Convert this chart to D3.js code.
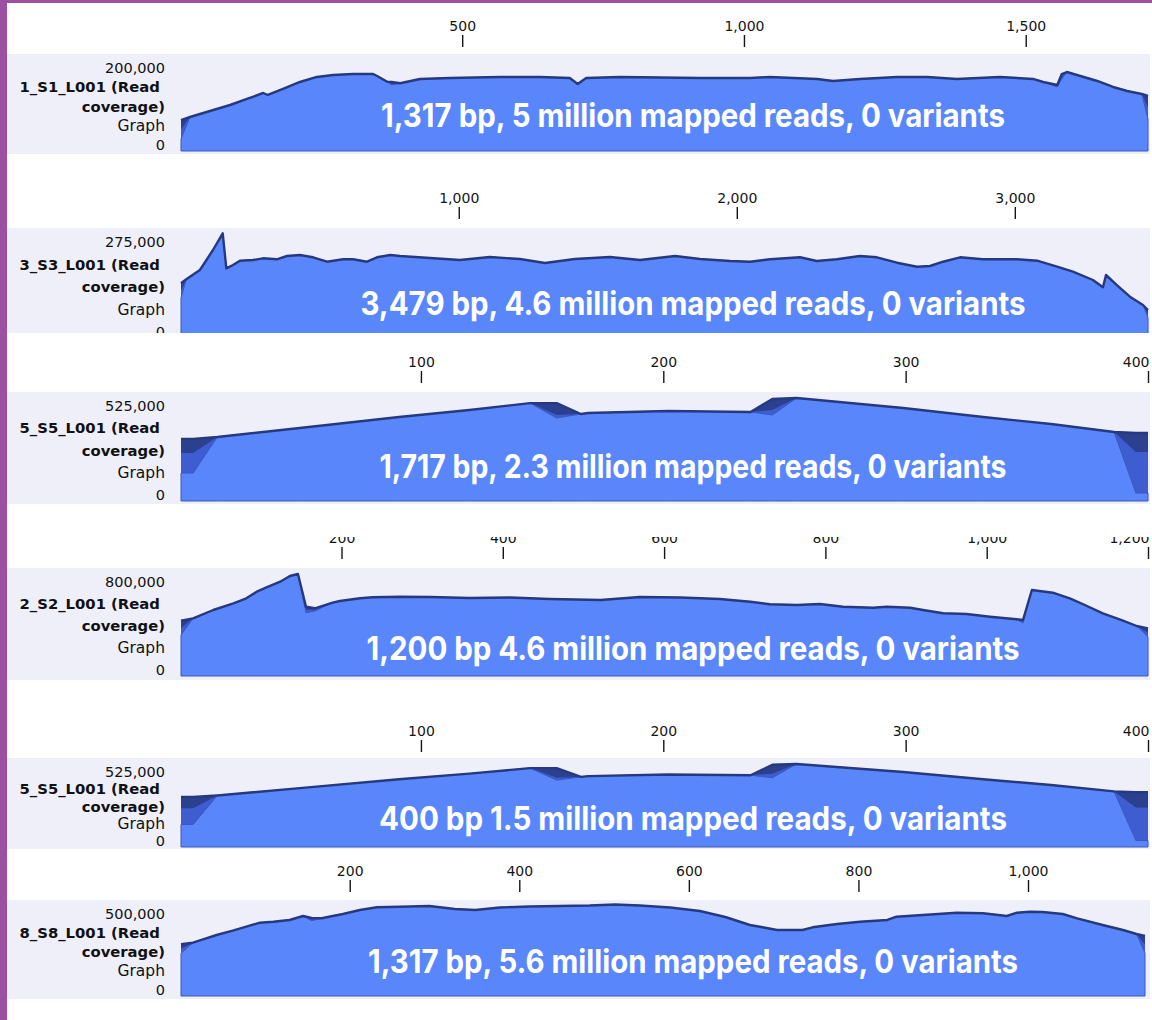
<!DOCTYPE html>
<html>
<head>
<meta charset="utf-8">
<script src="https://cdn.jsdelivr.net/npm/d3@7"></script>
<style>
  body { margin: 0; background: #ffffff; }
  svg { display: block; }
</style>
</head>
<body>
<svg id="chart" width="1152" height="1020"></svg>
<script>
// ---- Samples -------------------------------------------------------------
const sampleNames = ["1_S1_L001", "3_S3_L001", "5_S5_L001", "2_S2_L001", "5_S5_L001", "8_S8_L001"];
const refLengths  = [1717, 3479, 400, 1200, 400, 1138];
const yMaxLabels  = [200000, 275000, 525000, 800000, 525000, 500000];
const tickValues  = [
  [500, 1000, 1500],
  [1000, 2000, 3000],
  [100, 200, 300, 400],
  [200, 400, 600, 800, 1000, 1200],
  [100, 200, 300, 400],
  [200, 400, 600, 800, 1000]
];
const summaries = [
  "1,317 bp, 5 million mapped reads, 0 variants",
  "3,479 bp, 4.6 million mapped reads, 0 variants",
  "1,717 bp, 2.3 million mapped reads, 0 variants",
  "1,200 bp 4.6 million mapped reads, 0 variants",
  "400 bp 1.5 million mapped reads, 0 variants",
  "1,317 bp, 5.6 million mapped reads, 0 variants"
];

// ---- Read coverage: reference position (bp), max / mid / main coverage ----
const s1Pos = [1, 17, 88, 118, 147, 155, 182, 212, 242, 271, 306, 342, 349, 367, 375, 390, 425, 478, 567, 638, 691, 705, 720, 780, 851, 922, 1011, 1046, 1130, 1158, 1206, 1272, 1325, 1378, 1454, 1513, 1531, 1556, 1564, 1573, 1591, 1627, 1655, 1680, 1706, 1717];
const s1Max = [68100, 74700, 101100, 114300, 127500, 123100, 136300, 151700, 162700, 167000, 169200, 169200, 164900, 152300, 151700, 148800, 158300, 160500, 162700, 162700, 160500, 147300, 160500, 162700, 161600, 160500, 160500, 162700, 158300, 153900, 158300, 162700, 162700, 158300, 162700, 158300, 151700, 145100, 169200, 173600, 167000, 153900, 140700, 131900, 125300, 120900];
const s1Mid = [47000, 74700, 101100, 114300, 127500, 123100, 136300, 151700, 162700, 167000, 169200, 169200, 164900, 152300, 148000, 148800, 158300, 160500, 162700, 162700, 160500, 147300, 160500, 162700, 161600, 160500, 160500, 162700, 158300, 153900, 158300, 162700, 162700, 158300, 162700, 158300, 151700, 143000, 164000, 173600, 167000, 153900, 140700, 131900, 125300, 95000];
const s1Cov = [26400, 74700, 101100, 114300, 127500, 123100, 136300, 151700, 162700, 167000, 169200, 169200, 164900, 152300, 145100, 148800, 158300, 160500, 162700, 162700, 160500, 147300, 160500, 162700, 161600, 160500, 160500, 162700, 158300, 153900, 158300, 162700, 162700, 158300, 162700, 158300, 151700, 140700, 158300, 173600, 167000, 153900, 140700, 131900, 125300, 70300];

const s3Pos = [1, 20, 69, 116, 151, 164, 188, 213, 260, 296, 346, 382, 429, 476, 526, 584, 620, 670, 706, 753, 789, 897, 1004, 1112, 1220, 1310, 1418, 1544, 1652, 1778, 1868, 1976, 2048, 2120, 2227, 2288, 2360, 2443, 2504, 2576, 2648, 2695, 2742, 2803, 2885, 3008, 3080, 3152, 3209, 3281, 3317, 3328, 3367, 3414, 3461, 3479];
const s3Max = [144600, 155200, 179800, 232700, 276800, 184300, 193000, 204400, 206200, 210700, 208100, 216800, 219500, 213400, 201700, 208100, 208100, 201700, 213400, 219500, 216800, 211500, 206200, 214200, 208900, 198300, 208900, 214200, 206200, 216800, 208900, 203600, 201700, 208100, 213400, 203600, 208100, 216800, 213400, 199100, 188500, 190400, 201700, 213400, 208100, 208100, 204400, 188500, 175300, 153400, 134100, 166600, 140100, 109200, 87300, 74000];
const s3Mid = [125000, 155200, 179800, 232700, 276800, 184300, 193000, 204400, 206200, 210700, 208100, 216800, 219500, 213400, 201700, 208100, 208100, 201700, 213400, 219500, 216800, 211500, 206200, 214200, 208900, 198300, 208900, 214200, 206200, 216800, 208900, 203600, 201700, 208100, 213400, 203600, 208100, 216800, 213400, 199100, 188500, 190400, 201700, 213400, 208100, 208100, 204400, 188500, 175300, 153400, 134100, 166600, 140100, 109200, 87300, 63000];
const s3Cov = [105800, 155200, 179800, 232700, 276800, 184300, 193000, 204400, 206200, 210700, 208100, 216800, 219500, 213400, 201700, 208100, 208100, 201700, 213400, 219500, 216800, 211500, 206200, 214200, 208900, 198300, 208900, 214200, 206200, 216800, 208900, 203600, 201700, 208100, 213400, 203600, 208100, 216800, 213400, 199100, 188500, 190400, 201700, 213400, 208100, 208100, 204400, 188500, 175300, 153400, 134100, 166600, 140100, 109200, 87300, 52900];

const s5Pos = [1, 6, 16, 50, 91, 120, 145, 156, 166, 169, 202, 236, 245, 255, 299, 332, 360, 386, 395, 400];
const s5Max = [316000, 316000, 326200, 372100, 428100, 463800, 499000, 499000, 443400, 448500, 458700, 453600, 519900, 525000, 474000, 428100, 392500, 351700, 346600, 346600];
const s5Mid = [244700, 244700, 326200, 372100, 428100, 463800, 499000, 438000, 443400, 448500, 458700, 453600, 463800, 525000, 474000, 428100, 392500, 351700, 249800, 249800];
const s5Cov = [142700, 142700, 326200, 372100, 428100, 463800, 499000, 423000, 443400, 448500, 458700, 453600, 438300, 525000, 474000, 428100, 392500, 351700, 40800, 40800];

const s2Pos = [1, 16, 41, 66, 82, 95, 107, 124, 136, 146, 156, 167, 189, 198, 223, 239, 273, 310, 359, 409, 458, 521, 570, 620, 669, 707, 731, 765, 793, 822, 859, 876, 905, 921, 946, 975, 1004, 1037, 1045, 1056, 1082, 1103, 1119, 1144, 1169, 1186, 1200];
const s2Max = [433700, 452500, 517600, 570200, 609400, 661200, 695700, 739600, 784300, 800000, 543500, 531000, 574900, 588200, 609400, 617200, 622000, 619600, 611800, 615700, 603900, 596100, 619600, 615700, 603900, 582700, 562300, 556900, 564700, 543500, 535700, 543500, 535700, 517600, 491800, 486300, 465100, 444700, 439200, 674500, 653300, 609400, 564700, 491800, 433700, 392200, 374100];
const s2Mid = [375000, 452500, 517600, 570200, 609400, 661200, 695700, 739600, 784300, 800000, 520000, 520000, 574900, 588200, 609400, 617200, 622000, 619600, 611800, 615700, 603900, 596100, 619600, 615700, 603900, 582700, 562300, 556900, 564700, 543500, 535700, 543500, 535700, 517600, 491800, 486300, 465100, 444700, 427000, 674500, 653300, 609400, 564700, 491800, 433700, 392200, 340000];
const s2Cov = [321600, 452500, 517600, 570200, 609400, 661200, 695700, 739600, 784300, 800000, 496500, 509800, 574900, 588200, 609400, 617200, 622000, 619600, 611800, 615700, 603900, 596100, 619600, 615700, 603900, 582700, 562300, 556900, 564700, 543500, 535700, 543500, 535700, 517600, 491800, 486300, 465100, 444700, 415700, 674500, 653300, 609400, 564700, 491800, 433700, 392200, 308200];

const s8Pos = [1, 15, 27, 43, 62, 78, 94, 110, 129, 145, 155, 167, 180, 192, 212, 232, 259, 294, 324, 348, 377, 412, 448, 483, 513, 542, 578, 613, 643, 672, 687, 704, 734, 746, 775, 802, 834, 845, 876, 916, 947, 975, 987, 1002, 1017, 1041, 1058, 1088, 1112, 1128, 1138];
const s8Max = [287200, 296100, 315000, 338900, 362800, 385000, 407300, 412800, 422300, 444500, 433400, 431700, 444500, 455600, 477800, 492800, 496100, 500000, 483400, 477800, 491700, 497200, 500000, 502800, 508400, 502800, 491700, 472300, 438900, 394500, 381700, 366700, 366700, 381700, 400000, 412800, 422300, 440600, 450000, 462800, 459500, 444500, 462800, 468400, 466700, 455600, 431700, 394500, 366700, 344500, 333400];
const s8Mid = [262000, 296100, 315000, 338900, 362800, 385000, 407300, 412800, 422300, 444500, 425000, 431700, 444500, 455600, 477800, 492800, 496100, 500000, 483400, 477800, 491700, 497200, 500000, 502800, 508400, 502800, 491700, 472300, 438900, 394500, 381700, 366700, 366700, 381700, 400000, 412800, 422300, 440600, 450000, 462800, 459500, 444500, 462800, 468400, 466700, 455600, 431700, 394500, 366700, 344500, 286000];
const s8Cov = [237200, 296100, 315000, 338900, 362800, 385000, 407300, 412800, 422300, 444500, 418400, 431700, 444500, 455600, 477800, 492800, 496100, 500000, 483400, 477800, 491700, 497200, 500000, 502800, 508400, 502800, 491700, 472300, 438900, 394500, 381700, 366700, 366700, 381700, 400000, 412800, 422300, 440600, 450000, 462800, 459500, 444500, 462800, 468400, 466700, 455600, 431700, 394500, 366700, 344500, 238900];

const coverage = [
  { pos: s1Pos, max: s1Max, mid: s1Mid, cov: s1Cov },
  { pos: s3Pos, max: s3Max, mid: s3Mid, cov: s3Cov },
  { pos: s5Pos, max: s5Max, mid: s5Mid, cov: s5Cov },
  { pos: s2Pos, max: s2Max, mid: s2Mid, cov: s2Cov },
  { pos: s5Pos, max: s5Max, mid: s5Mid, cov: s5Cov },
  { pos: s8Pos, max: s8Max, mid: s8Mid, cov: s8Cov }
];

// ---- Track layout (one stacked view per sample) ---------------------------
const W = 1152, H = 1020;
const plotLeft = 181, bandLeft = 7, bandRight = 1150;
const layout = [
  { clip: [3, 170],    bandTop: 54,  bandBottom: 154, plotBottom: 151, plotRight: 1148, tickGap: 7, textY: 127, textW: 624 },
  { clip: [170, 333],  bandTop: 228, bandBottom: 345, plotBottom: 338, plotRight: 1148, tickGap: 9, textY: 315, textW: 665 },
  { clip: [333, 531],  bandTop: 392, bandBottom: 504, plotBottom: 501, plotRight: 1148, tickGap: 9, textY: 478, textW: 627 },
  { clip: [537, 690],  bandTop: 568, bandBottom: 680, plotBottom: 676, plotRight: 1148, tickGap: 9, textY: 660, textW: 653 },
  { clip: [690, 850],  bandTop: 758, bandBottom: 849, plotBottom: 847, plotRight: 1148, tickGap: 6, textY: 830, textW: 628 },
  { clip: [850, 1020], bandTop: 900, bandBottom: 999, plotBottom: 996, plotRight: 1145, tickGap: 8, textY: 973, textW: 650 }
];

const colors = {
  band: "#efeffa",
  max: "#2c4090",
  mid: "#3d5dd0",
  main: "#5987fb",
  edge: "#3b57c0",
  line: "#26397f",
  frame: "#9b51a0"
};
const labelFont = "'DejaVu Sans', Verdana, sans-serif";
const fmt = d3.format(",");

const svg = d3.select("#chart");
svg.append("rect").attr("width", W).attr("height", H).attr("fill", "#ffffff");
const defs = svg.append("defs");

sampleNames.forEach((name, i) => {
  const L = layout[i];
  const data = coverage[i];

  defs.append("clipPath").attr("id", "clip" + i)
    .append("rect")
    .attr("x", bandLeft).attr("y", L.clip[0])
    .attr("width", W - bandLeft).attr("height", L.clip[1] - L.clip[0]);

  const g = svg.append("g").attr("clip-path", `url(#clip${i})`);

  // track background band
  g.append("rect")
    .attr("x", bandLeft).attr("y", L.bandTop)
    .attr("width", bandRight - bandLeft).attr("height", L.bandBottom - L.bandTop)
    .attr("fill", colors.band);

  const x = d3.scaleLinear().domain([1, refLengths[i]]).range([plotLeft, L.plotRight]);
  const y = d3.scaleLinear().domain([0, yMaxLabels[i]]).range([L.plotBottom, L.bandTop + 6]);

  const rows = data.pos.map((p, k) => ({ p, max: data.max[k], mid: data.mid[k], cov: data.cov[k] }));
  const areaOf = key => d3.area().x(d => x(d.p)).y0(L.plotBottom).y1(d => y(d[key]));

  g.append("path").datum(rows).attr("d", areaOf("max")).attr("fill", colors.max);
  g.append("path").datum(rows).attr("d", areaOf("mid")).attr("fill", colors.mid);
  g.append("path").datum(rows).attr("d", areaOf("cov"))
    .attr("fill", colors.main).attr("stroke", colors.edge).attr("stroke-width", 1);
  g.append("path").datum(rows)
    .attr("d", d3.line().x(d => x(d.p)).y(d => y(d.max)))
    .attr("fill", "none").attr("stroke", colors.line)
    .attr("stroke-width", 2.4).attr("stroke-linejoin", "round");

  // position ruler above the track
  const axis = g.append("g")
    .attr("transform", `translate(0,${L.bandTop - L.tickGap})`)
    .call(d3.axisTop(x).tickValues(tickValues[i]).tickSize(12).tickPadding(4).tickFormat(fmt));
  axis.select(".domain").remove();
  axis.selectAll(".tick line").attr("stroke", "#151515").attr("stroke-width", 1.4);
  axis.selectAll(".tick text")
    .attr("fill", "#151515")
    .style("font-family", labelFont).style("font-size", "14px")
    .each(function (d) {
      const w = this.getComputedTextLength();
      const over = x(d) + w / 2 - (bandRight - 1);
      if (over > 0) d3.select(this).attr("x", -over);
    });

  // track labels on the left
  const lines = [
    { t: fmt(yMaxLabels[i]), bold: false, size: 14.5 },
    { t: name + " (Read\u00a0", bold: true, size: 14.8 },
    { t: "coverage)", bold: true, size: 14.8 },
    { t: "Graph", bold: false, size: 15.5 },
    { t: "0", bold: false, size: 14.5 }
  ];
  const top = L.bandTop + 14, bottom = L.plotBottom - 6.5;
  const step = (bottom - top) / (lines.length - 1);
  g.selectAll("text.lbl").data(lines).enter().append("text")
    .attr("class", "lbl")
    .attr("x", 165).attr("y", (d, k) => top + k * step)
    .attr("dy", "0.36em")
    .attr("text-anchor", "end")
    .attr("fill", "#111111")
    .style("font-family", labelFont)
    .style("font-size", d => d.size + "px")
    .style("font-weight", d => d.bold ? "bold" : "normal")
    .text(d => d.t);

  // run summary over the coverage graph
  g.append("text")
    .attr("x", 693).attr("y", L.textY)
    .attr("text-anchor", "middle")
    .attr("textLength", L.textW).attr("lengthAdjust", "spacingAndGlyphs")
    .attr("fill", "#ffffff")
    .style("font-family", "Inter, 'Open Sans', sans-serif")
    .style("font-weight", 700)
    .style("font-size", "32px")
    .text(summaries[i]);
});

// outer frame
svg.append("rect").attr("x", 0).attr("y", 0).attr("width", 7).attr("height", H).attr("fill", colors.frame);
svg.append("rect").attr("x", 0).attr("y", 0).attr("width", W).attr("height", 3).attr("fill", colors.frame);
</script>
</body>
</html>
